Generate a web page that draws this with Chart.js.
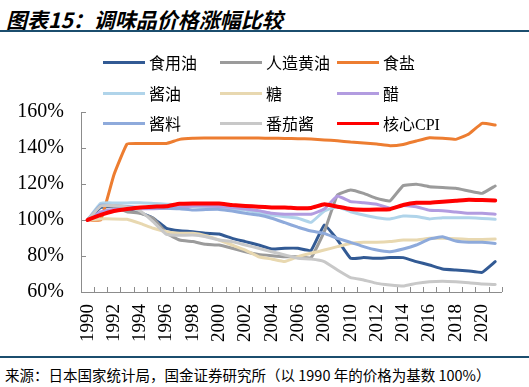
<!DOCTYPE html>
<html>
<head>
<meta charset="utf-8">
<script src="https://cdn.jsdelivr.net/npm/chart.js@4/dist/chart.umd.min.js"></script>
<style>
    html, body { margin: 0; padding: 0; background: #fff; overflow: hidden; }
    #wrap { position: relative; width: 529px; height: 387px; overflow: hidden; }
    #chart { position: absolute; left: 0; top: 0; }
    .title {
        position: absolute; left: 6px; top: 4px;
        font-family: "Noto Sans CJK SC", sans-serif; font-size: 21px;
        font-weight: bold; font-style: italic; color: #000; white-space: nowrap;
    }
    .rule { position: absolute; left: 0; width: 529px; height: 2px; background: #1b4e6e; }
    .source {
        position: absolute; left: 5px; top: 364px;
        font-family: "Noto Sans CJK SC", sans-serif; font-size: 14.5px; color: #000; white-space: nowrap;
    }
    .legend { position: absolute; left: 0; top: 0; }
    .legend-item { position: absolute; display: flex; align-items: center; height: 20px;
        font-family: "Liberation Serif", "Noto Sans CJK SC", serif; font-size: 16px; color: #000; white-space: nowrap; }
    .legend-item span.line { display: inline-block; width: 42px; height: 3px; margin-right: 4px; }
</style>
</head>
<body>
<div id="wrap">
    <div class="title">图表15：调味品价格涨幅比较</div>
    <div class="rule" style="top:30px"></div>
    <canvas id="chart" width="530" height="348"></canvas>
    <div class="legend" id="legend"></div>
    <div class="rule" style="top:356px"></div>
    <div class="source">来源：日本国家统计局，国金证券研究所（以 1990 年的价格为基数 100%）</div>
</div>
<script>
// Years on the category axis
const years = [];
for (let y = 1990; y <= 2021; y++) years.push(String(y));

// Series names and colours (legend order)
const seriesNames = ['食用油', '人造黄油', '食盐', '酱油', '糖', '醋', '酱料', '番茄酱', '核心CPI'];
const seriesColors = ['#325a94', '#9b9b9b', '#ed7d31', '#b0d4ea', '#e8d8b0', '#b29ce0', '#8eaadb', '#c8c8c8', '#ff0000'];

// Values (1990 = 100)
const cookingOil = [100, 107, 107.5, 106, 104, 101, 95.4, 94, 93.5, 92.6, 92.2, 89.8, 88, 86.1, 83.9, 84.3, 84.3, 83.1, 97.2, 89, 78.7, 79.1, 78.7, 79.1, 79.1, 76.9, 75, 72.8, 72.2, 71.7, 70.9, 76.9];
const margarine = [100, 108, 107.5, 104.6, 103.7, 101, 92.6, 88.9, 88, 86.5, 86.1, 84.3, 82.4, 80.9, 80.2, 79.6, 79.6, 79.1, 93.5, 113.9, 116.7, 114.8, 112, 110.6, 119.1, 119.8, 118.5, 118, 117.6, 116.1, 114.8, 118.9];
const salt = [100, 100, 125, 142.2, 142.5, 142.5, 142.5, 144.8, 145.4, 145.5, 145.6, 145.6, 145.5, 145.5, 145.4, 145.3, 145.2, 145, 144.5, 144, 143.3, 142.8, 142.2, 141.3, 142, 143.9, 145.7, 145.4, 144.8, 147.8, 153.7, 152.8];
const soySauce = [100, 109.3, 109.5, 109.5, 109.6, 109.2, 108.8, 108.3, 107.5, 106.8, 106.3, 106, 105.5, 104, 102.8, 101.8, 101, 98.7, 105, 107.4, 104.6, 102.8, 101.3, 100.6, 102.2, 101.9, 100.6, 101.3, 101.3, 101.3, 100.9, 100.4];
const sugar = [100, 100.6, 100.6, 100.4, 98.1, 95.4, 93.5, 92.6, 92.6, 91.3, 88.9, 86.1, 83.3, 79.6, 78.3, 76.9, 79.6, 81.5, 83.3, 85.2, 87, 87.6, 87.6, 88, 88.9, 88.9, 89.8, 89.8, 89.6, 89.2, 89.2, 89.4];
const vinegar = [100, 104.5, 106, 106.3, 106.3, 106.3, 106.5, 107, 107.8, 107.8, 107.5, 107, 106.1, 105.2, 103.7, 103.2, 103.2, 103.2, 106.1, 113.3, 110.2, 109.6, 108.7, 106.5, 108, 107.4, 105.4, 105.2, 104.4, 103.7, 103.7, 103.2];
const sauce = [100, 108.3, 108, 107.5, 107, 106.8, 106.5, 106.3, 105.6, 105.8, 105.9, 105, 103.7, 102.8, 101, 98.5, 96, 93.9, 92.6, 89.8, 87.6, 85.2, 83.3, 82.4, 83.9, 86.1, 89.4, 90.7, 88.3, 87.6, 87.6, 87];
const ketchup = [100, 107.8, 108, 107.2, 105, 99, 92, 91.5, 91.7, 90.7, 88.9, 88, 86.1, 84.3, 82.4, 80.6, 78.7, 78.3, 76.9, 72.2, 68, 66.7, 64.8, 63.9, 63.3, 64.8, 65.7, 66, 65.7, 65.2, 64.4, 64.2];
const coreCpi = [100, 102.8, 105, 106.1, 107, 107.4, 107.6, 109, 109.2, 109.2, 109.2, 108.3, 107.8, 107.4, 107, 107, 106.5, 106.7, 108.7, 107.4, 106.1, 105.7, 105.8, 106, 108.3, 109.6, 109.6, 110.2, 110.7, 111.3, 111.1, 110.9];

const seriesValues = [cookingOil, margarine, salt, soySauce, sugar, vinegar, sauce, ketchup, coreCpi];

// Y axis ticks
const yMin = 60, yMax = 160, yStep = 20;

const axisColor = '#8c8c8c';

// Draw short tick marks pointing into the plot
const innerTicks = {
    id: 'innerTicks',
    beforeDatasetsDraw(chart) {
        const { ctx, scales: { x, y } } = chart;
        ctx.save();
        ctx.strokeStyle = axisColor;
        ctx.lineWidth = 1;
        ctx.beginPath();
        y.ticks.forEach((t, i) => {
            const py = Math.round(y.getPixelForTick(i)) + 0.5;
            ctx.moveTo(x.left, py);
            ctx.lineTo(x.left + 5, py);
        });
        const half = (x.getPixelForValue(1) - x.getPixelForValue(0)) / 2;
        for (let i = 0; i <= years.length; i++) {
            const px = Math.round(x.getPixelForValue(i) - half) + 0.5;
            ctx.moveTo(px, y.bottom);
            ctx.lineTo(px, y.bottom - 5);
        }
        ctx.stroke();
        ctx.restore();
    }
};

const datasets = seriesNames.map((name, i) => ({
    label: name,
    data: seriesValues[i],
    borderColor: seriesColors[i],
    backgroundColor: seriesColors[i],
    borderWidth: name === '核心CPI' ? 4 : 3,
    pointRadius: 0,
    tension: 0.1,
    borderJoinStyle: 'round',
    borderCapStyle: 'round',
    order: seriesNames.length - 1 - i
}));

new Chart(document.getElementById('chart'), {
    type: 'line',
    data: { labels: years, datasets: datasets },
    options: {
        responsive: false,
        animation: false,
        devicePixelRatio: 1,
        layout: { padding: { top: 112, left: 0, right: 0, bottom: 0 } },
        plugins: {
            legend: { display: false },
            tooltip: { enabled: false }
        },
        scales: {
            x: {
                offset: true,
                grid: { display: true, drawOnChartArea: false, drawTicks: false, color: 'rgba(0,0,0,0)' },
                border: { display: true, color: axisColor, width: 1 },
                ticks: {
                    autoSkip: false,
                    minRotation: 90,
                    maxRotation: 90,
                    padding: 12,
                    color: '#000',
                    font: { family: '"Liberation Serif", serif', size: 19 },
                    callback: function(value, index) {
                        return index % 2 === 0 ? years[index] : '';
                    }
                },
                afterFit: function(scale) { scale.height = 56; }
            },
            y: {
                min: yMin,
                max: yMax,
                grid: { display: true, drawOnChartArea: false, drawTicks: false, color: 'rgba(0,0,0,0)' },
                border: { display: true, color: axisColor, width: 1 },
                ticks: {
                    stepSize: yStep,
                    padding: 17,
                    color: '#000',
                    font: { family: '"Liberation Serif", serif', size: 20 },
                    callback: function(value) { return value + '%'; }
                },
                afterFit: function(scale) { scale.width = 81; }
            }
        }
    },
    plugins: [innerTicks]
});

// HTML legend laid out in three columns over the plot
const legendEl = document.getElementById('legend');
const colX = [103, 220, 337];
const rowY = [52, 83, 113];
seriesNames.forEach((name, i) => {
    const item = document.createElement('div');
    item.className = 'legend-item';
    item.style.left = colX[i % 3] + 'px';
    item.style.top = rowY[Math.floor(i / 3)] + 'px';
    item.innerHTML = '<span class="line" style="background:' + seriesColors[i] + '"></span>' + name;
    legendEl.appendChild(item);
});
</script>
</body>
</html>
